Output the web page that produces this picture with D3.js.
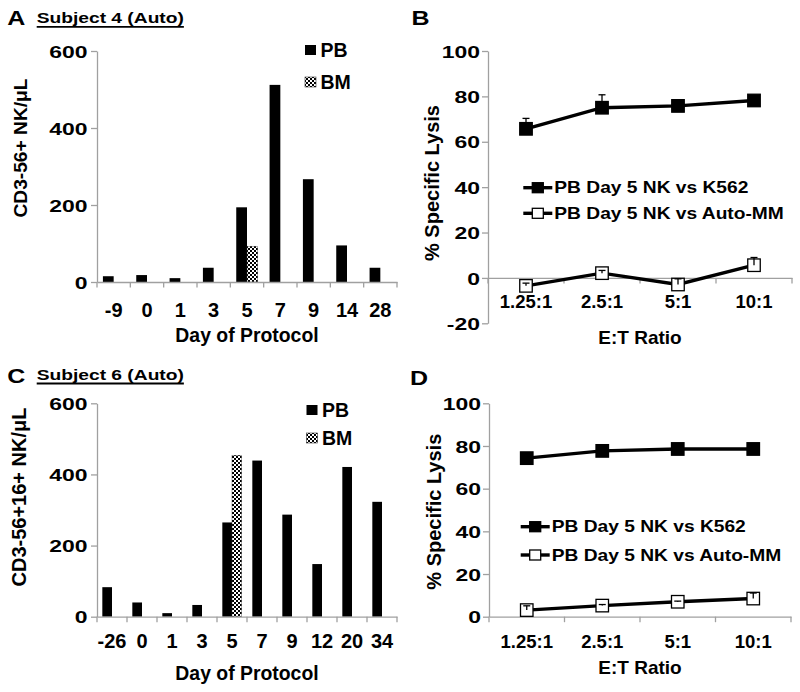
<!DOCTYPE html>
<html><head><meta charset="utf-8">
<script src="https://cdn.jsdelivr.net/npm/d3@7"></script>
<style>body{margin:0;background:#fff}svg{display:block;font-family:"Liberation Sans",Arial,sans-serif;font-weight:bold}</style>
</head><body>
<svg id="chart" width="800" height="692"></svg>
<script>
// ---- Data ----
const daysA = ["-9","0","1","3","5","7","9","14","28"];
const pbA   = [15,18,10,37,194,512,267,95,37];
const bmA   = [null,null,null,null,93,null,null,null,null];
const daysC = ["-26","0","1","3","5","7","9","12","20","34"];
const pbC   = [83,40,10,33,265,439,287,148,421,323];
const bmC   = [null,null,null,null,454,null,null,null,null,null];
const barTicks = [0,200,400,600];

const ratios = ["1.25:1","2.5:1","5:1","10:1"];
const k562B = [65.7,75,75.8,78.2];
const k562BErr = [4.6,5.7,1,1];
const autoB = [-3.5,2.1,-2.9,5.6];
const autoBErr = [1.2,1.2,2.5,3.4];
const k562D = [74.3,77.7,78.6,78.6];
const k562DErr = [1,1,1,1];
const autoD = [3.1,5.2,7.0,8.5];
const autoDErr = [2,0.5,0.3,2.6];
const ticksB = [-20,0,20,40,60,80,100];
const ticksD = [0,20,40,60,80,100];
const legendLine = ["PB Day 5 NK vs K562","PB Day 5 NK vs Auto-MM"];
const legendBar = ["PB","BM"];

const svg = d3.select("#chart");
const AX = "#a0a0a0";

const defs = svg.append("defs");
const pat = defs.append("pattern").attr("id","checker").attr("patternUnits","userSpaceOnUse")
  .attr("width",4).attr("height",4);
pat.append("rect").attr("width",4).attr("height",4).attr("fill","#fff");
pat.append("rect").attr("width",2).attr("height",2).attr("fill","#000");
pat.append("rect").attr("x",2).attr("y",2).attr("width",2).attr("height",2).attr("fill","#000");

function stext(g, x, y, str, size, sx, anchor) {
  return g.append("text").attr("transform",`translate(${x},${y}) scale(${sx},1)`)
    .attr("font-size",size).attr("text-anchor",anchor||"start").attr("fill","#000").text(str);
}

function styleYAxis(ax, sx, gap) {
  ax.select(".domain").attr("stroke",AX).attr("stroke-width",1.3);
  ax.selectAll(".tick line").attr("stroke",AX).attr("stroke-width",1.3);
  ax.selectAll(".tick text").attr("x",null).attr("dy","0.36em")
    .attr("font-size",17).attr("font-family","Liberation Sans, Arial").attr("font-weight","bold")
    .attr("fill","#000").attr("transform",`translate(${-gap},0) scale(${sx},1)`);
}

function panelTitle(letter, sub, lx, ly, sx0, sy0, uly) {
  stext(svg, lx, ly, letter, 20, 1.25);
  if (sub) {
    const t = stext(svg, sx0, sy0, sub, 15.5, 1.24);
    const w = t.node().getComputedTextLength()*1.24;
    svg.append("line").attr("x1",sx0).attr("x2",sx0+w).attr("y1",uly).attr("y2",uly)
      .attr("stroke","#000").attr("stroke-width",1.8);
  }
}

function barPanel(o) {
  const x = d3.scaleBand().domain(o.cats).range([o.x0,o.x1]);
  const y = d3.scaleLinear().domain([0,600]).range([o.yb,o.yt]);
  const g = svg.append("g");
  const bw = x.bandwidth()/3.1;
  const ya = g.append("g").attr("transform",`translate(${o.x0},0)`)
    .call(d3.axisLeft(y).tickValues(barTicks).tickFormat(d=>String(d)).tickSize(6).tickSizeOuter(0));
  styleYAxis(ya, 1.35, 9.5);
  g.selectAll("rect.pb").data(o.pb).join("rect").attr("class","pb")
    .attr("x",(d,i)=>x(o.cats[i])+x.bandwidth()/2-bw).attr("width",bw)
    .attr("y",d=>y(d)).attr("height",d=>y(0)-y(d)).attr("fill","#000");
  g.selectAll("rect.bm").data(o.bm.map((v,i)=>({v,c:o.cats[i]})).filter(d=>d.v!=null)).join("rect").attr("class","bm")
    .attr("x",d=>x(d.c)+x.bandwidth()/2).attr("width",bw)
    .attr("y",d=>y(d.v)).attr("height",d=>y(0)-y(d.v)).attr("fill","url(#checker)")
    .attr("stroke","#333").attr("stroke-width",0.4);
  const xa = g.append("g").attr("transform",`translate(0,${y(0)})`)
    .call(d3.axisBottom(x).tickSize(0).tickSizeOuter(0));
  xa.select(".domain").attr("stroke",AX).attr("stroke-width",1.3);
  xa.selectAll(".tick text").attr("y",o.tickBase).attr("dy",0).attr("font-size",20)
    .attr("font-family","Liberation Sans, Arial").attr("font-weight","bold").attr("fill","#000");
  const bounds = o.cats.map(c=>x(c)).concat([o.x1]);
  g.selectAll("line.bt").data(bounds).join("line").attr("class","bt")
    .attr("x1",d=>d).attr("x2",d=>d).attr("y1",y(0)).attr("y2",y(0)+5.5)
    .attr("stroke",AX).attr("stroke-width",1.3);
  svg.append("text").attr("x",(o.x0+o.x1)/2).attr("y",o.xtBase).attr("text-anchor","middle")
    .attr("font-size",19.4).text("Day of Protocol");
  svg.append("text").attr("transform",`translate(${o.ytX},${o.ytY}) rotate(-90)`).attr("text-anchor","middle")
    .attr("font-size",o.ytSize).text(o.ytitle);
  legendBar.forEach((lab,i)=>{
    const ly = o.legY[i];
    svg.append("rect").attr("x",o.legX).attr("y",ly-5).attr("width",11).attr("height",10)
      .attr("fill", i===0?"#000":"url(#checker)").attr("stroke",i===0?"none":"#333").attr("stroke-width",0.6);
    svg.append("text").attr("x",o.legX+15.5).attr("y",ly+7).attr("font-size",19.5).text(lab);
  });
}

function linePanel(o) {
  const x = d3.scaleBand().domain(ratios).range([o.x0,o.x1]);
  const y = d3.scaleLinear().domain(o.dom).range([o.yb,o.yt]);
  const g = svg.append("g");
  const ya = g.append("g").attr("transform",`translate(${o.x0},0)`)
    .call(d3.axisLeft(y).tickValues(o.ticks).tickFormat(d=>String(d)).tickSize(6).tickSizeOuter(0));
  styleYAxis(ya, 1.35, 8);
  const xa = g.append("g").attr("transform",`translate(0,${y(0)})`)
    .call(d3.axisBottom(x).tickSize(0).tickSizeOuter(0));
  xa.select(".domain").attr("stroke",AX).attr("stroke-width",1.3);
  xa.selectAll(".tick text").attr("y",o.tickBase).attr("dy",0).attr("font-size",18.5)
    .attr("font-family","Liberation Sans, Arial").attr("font-weight","bold").attr("fill","#000");
  const bounds = ratios.map(c=>x(c)).concat([o.x1]);
  g.selectAll("line.bt").data(bounds).join("line").attr("class","bt")
    .attr("x1",d=>d).attr("x2",d=>d).attr("y1",y(0)).attr("y2",y(0)+5.5)
    .attr("stroke",AX).attr("stroke-width",1.3);
  const cx = r => x(r)+x.bandwidth()/2;
  const line = d3.line().x((d,i)=>cx(ratios[i])).y(d=>y(d));
  const series = [{v:o.k, e:o.ke, fill:"#000"},{v:o.a, e:o.ae, fill:"#fff"}];
  const ms = 12.5;
  series.forEach(s=>{
    g.append("path").attr("d",line(s.v)).attr("fill","none").attr("stroke","#000").attr("stroke-width",3.4);
    g.selectAll(null).data(s.v).join("rect")
      .attr("x",(d,i)=>cx(ratios[i])-ms/2).attr("y",d=>y(d)-ms/2).attr("width",ms).attr("height",ms)
      .attr("fill",s.fill).attr("stroke","#000").attr("stroke-width",1.3);
    s.v.forEach((d,i)=>{
      const xc = cx(ratios[i]), yt = y(d+s.e[i]);
      g.append("line").attr("x1",xc).attr("x2",xc).attr("y1",y(d)).attr("y2",yt).attr("stroke","#000").attr("stroke-width",1.3);
      g.append("line").attr("x1",xc-3.5).attr("x2",xc+3.5).attr("y1",yt).attr("y2",yt).attr("stroke","#000").attr("stroke-width",1.3);
    });
  });
  svg.append("text").attr("x",640).attr("y",o.xtBase).attr("text-anchor","middle")
    .attr("font-size",19).text("E:T Ratio");
  svg.append("text").attr("transform",`translate(${o.ytX},${o.ytY}) rotate(-90)`).attr("text-anchor","middle")
    .attr("font-size",20).text("% Specific Lysis");
  series.forEach((s,i)=>{
    const ly = o.legY[i];
    svg.append("line").attr("x1",o.legX).attr("x2",o.legX+29).attr("y1",ly).attr("y2",ly)
      .attr("stroke","#000").attr("stroke-width",3.4);
    svg.append("rect").attr("x",o.legX+14.5-5.5).attr("y",ly-5).attr("width",11).attr("height",10)
      .attr("fill",s.fill).attr("stroke","#000").attr("stroke-width",1.3);
    stext(svg, o.legX+31, ly+5.7, legendLine[i], 16, 1.2);
  });
}

panelTitle("A","Subject 4 (Auto)",7.3,25,36.7,23,26.8);
panelTitle("B",null,411.5,25);
panelTitle("C","Subject 6 (Auto)",7.3,383,36.7,380,383.5);
panelTitle("D",null,410,385);

barPanel({cats:daysA,pb:pbA,bm:bmA,x0:97,x1:397,yt:51,yb:282,tickBase:34.7,xtBase:342,
  ytitle:"CD3-56+ NK/μL",ytX:27,ytY:148,ytSize:19.2,legX:305,legY:[50,82]});
barPanel({cats:daysC,pb:pbC,bm:bmC,x0:97,x1:397,yt:403.3,yb:616.7,tickBase:31.3,xtBase:680.3,
  ytitle:"CD3-56+16+ NK/μL",ytX:26,ytY:497,ytSize:20,legX:306.5,legY:[410,438]});

linePanel({dom:[-20,100],ticks:ticksB,x0:488,x1:792,yt:51,yb:323.3,tickBase:30.3,xtBase:343.5,
  k:k562B,ke:k562BErr,a:autoB,ae:autoBErr,ytX:439,ytY:183,legX:523.3,legY:[187.7,213.3]});
linePanel({dom:[0,100],ticks:ticksD,x0:489,x1:791,yt:403.3,yb:616.7,tickBase:31.3,xtBase:673.6,
  k:k562D,ke:k562DErr,a:autoD,ae:autoDErr,ytX:441,ytY:511.7,legX:520.7,legY:[526.7,555]});
</script>
</body></html>
